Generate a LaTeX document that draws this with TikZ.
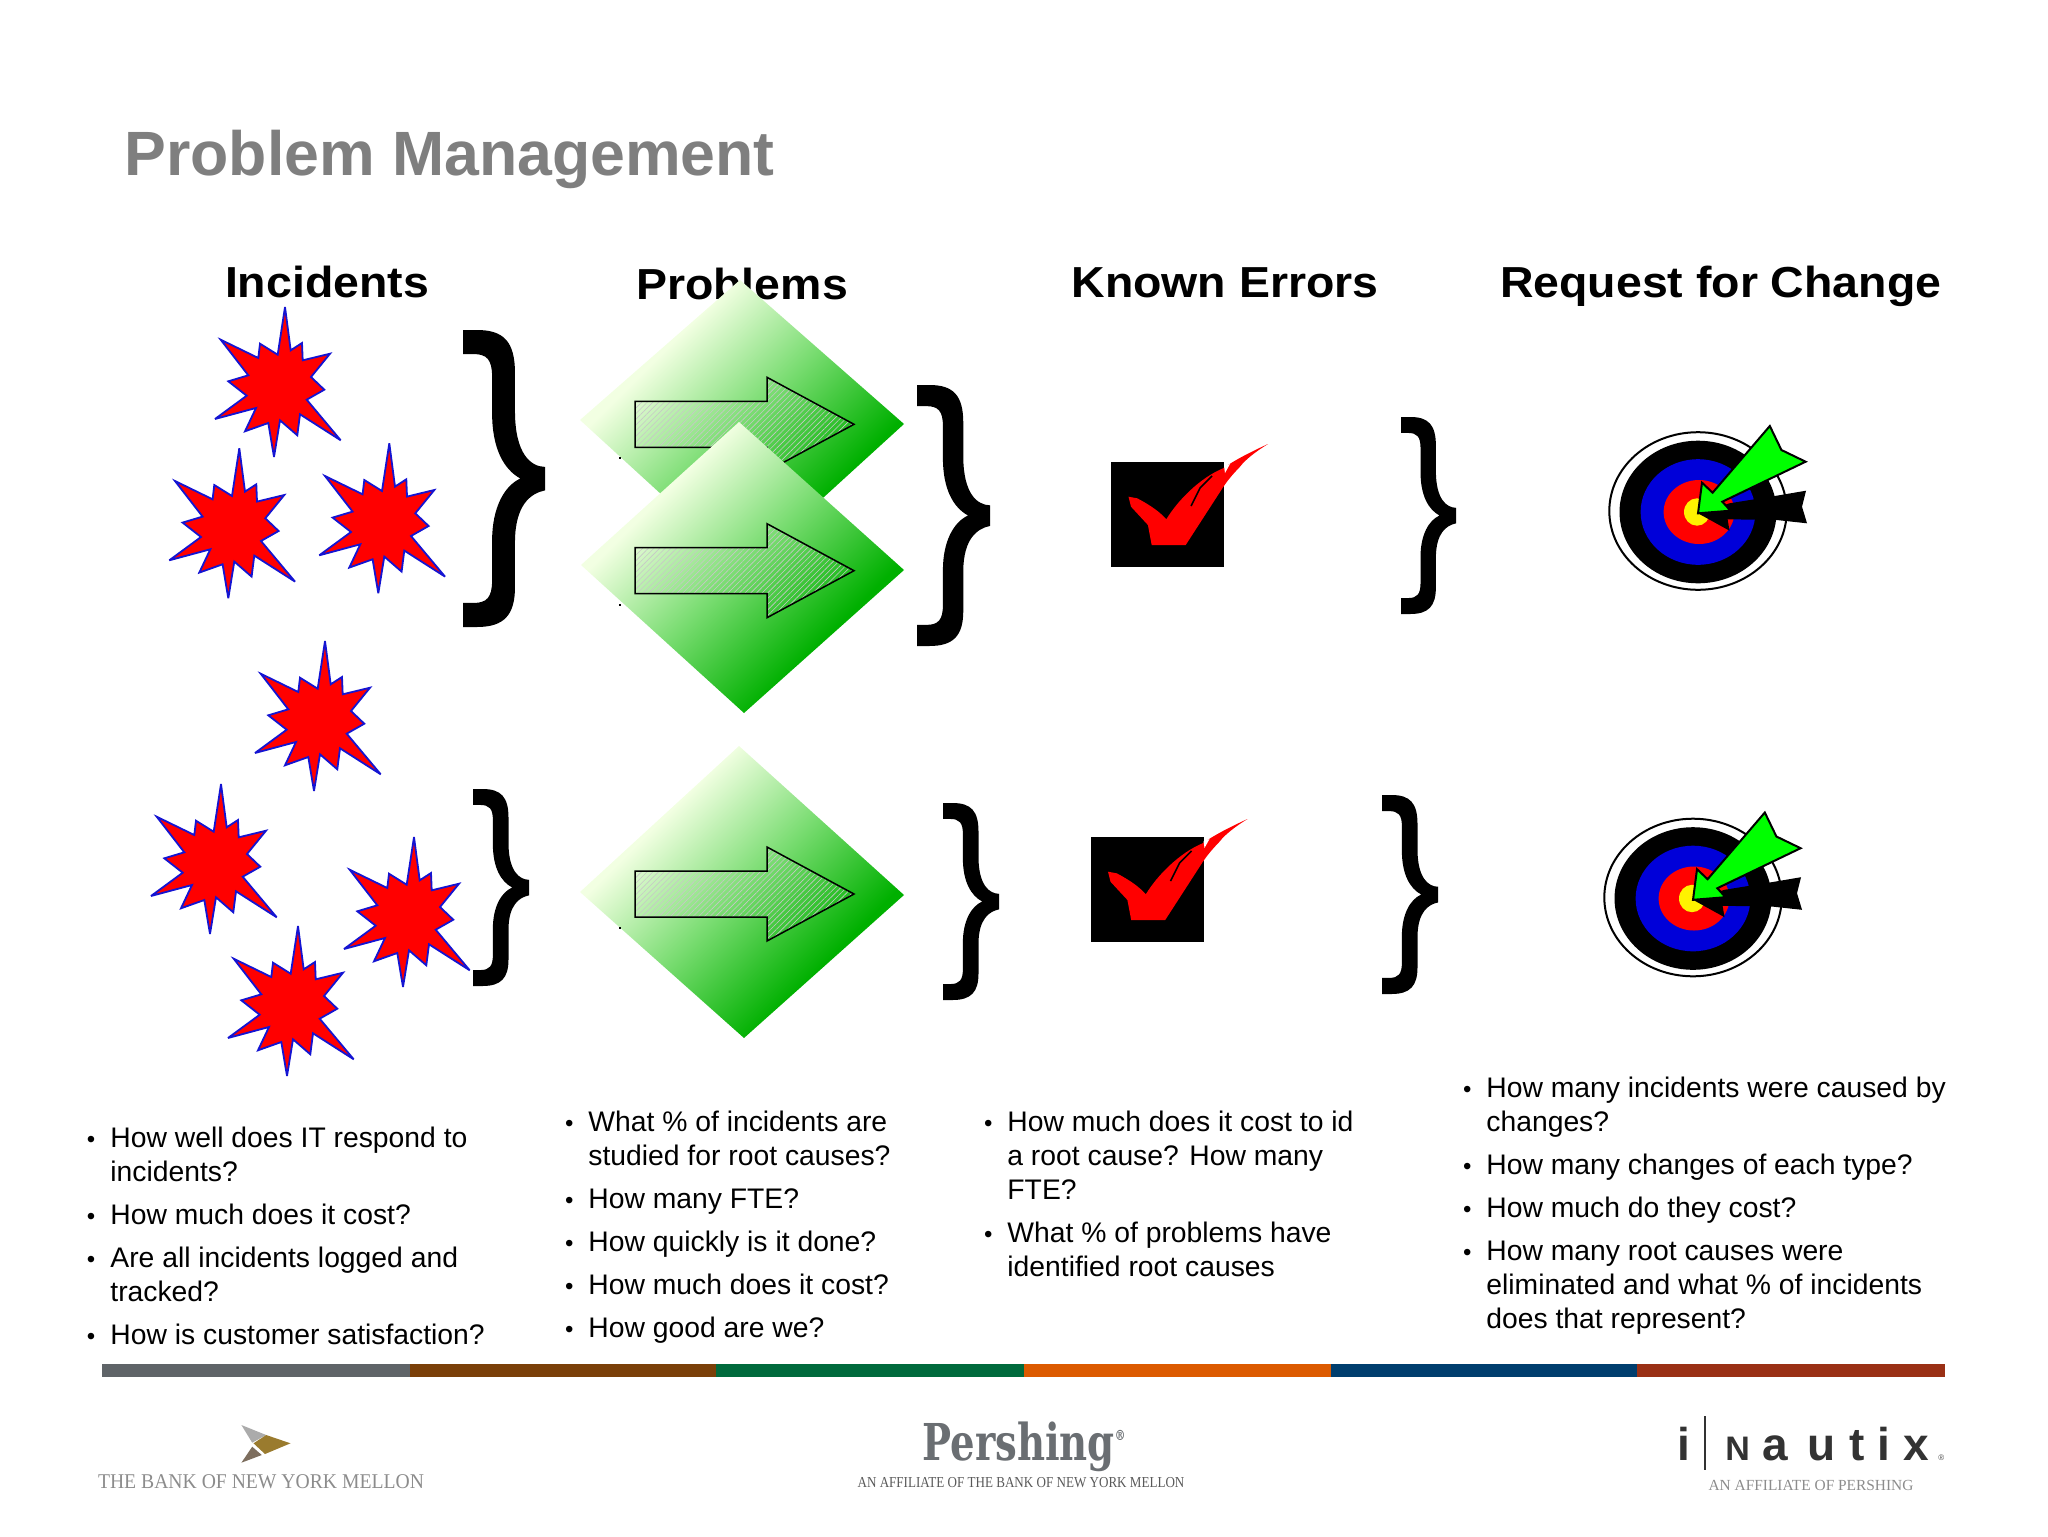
\documentclass[tikz,border=0pt]{standalone}
\usepackage{fontspec}
\usepackage{graphicx}
\setmainfont{Liberation Sans}
\newfontfamily\logoserif{Liberation Serif}
\newfontfamily\slabfont{DejaVu Serif}
\newfontfamily\headfont[FakeStretch=1.07]{Liberation Sans}
\usetikzlibrary{patterns.meta}
\definecolor{titlegray}{HTML}{7F7F7F}
\definecolor{starblue}{HTML}{1414D2}
\definecolor{palegreen}{HTML}{F2FFE2}
\definecolor{midgreen}{HTML}{78DC70}
\definecolor{deepgreen}{HTML}{00B000}
\definecolor{logogray}{HTML}{8C8C8C}
\definecolor{slabgray}{HTML}{6A6E72}
\definecolor{barA}{HTML}{5F6468}
\definecolor{barB}{HTML}{7A3F08}
\definecolor{barC}{HTML}{006A3C}
\definecolor{barD}{HTML}{DC5A00}
\definecolor{barE}{HTML}{003E6E}
\definecolor{barF}{HTML}{9A3015}
\definecolor{bnygray}{HTML}{ABABAB}
\definecolor{bnygold}{HTML}{9A7B2E}
\definecolor{bnybrown}{HTML}{7D6E5E}
\pgfdeclareverticalshading{rhombshade}{100bp}{color(0bp)=(deepgreen); color(32.3bp)=(deepgreen); color(50bp)=(midgreen); color(67.7bp)=(palegreen); color(100bp)=(palegreen)}
\newcommand\curly[4]{\fill[black,shift={(#1,#2)},x=#3*0.5pt,y=-#4*0.5pt]
 (0,0) -- (.17,0) .. controls (.50,0) and (.634,.04) .. (.634,.146) -- (.634,.28)
 .. controls (.64,.415) and (.82,.46) .. (1,.461) -- (1,.54)
 .. controls (.82,.55) and (.64,.59) .. (.634,.709) -- (.634,.865)
 .. controls (.634,.96) and (.50,1) .. (.17,1) -- (0,1) -- (0,.919) -- (.13,.919)
 .. controls (.29,.919) and (.355,.90) .. (.355,.843) -- (.355,.709)
 .. controls (.355,.60) and (.50,.525) .. (.70,.50)
 .. controls (.50,.47) and (.355,.40) .. (.355,.28) -- (.355,.157)
 .. controls (.355,.10) and (.29,.081) .. (.13,.081) -- (0,.081) -- cycle;}
\newcommand\rhomb[4]{%
 \shade[shading=rhombshade,shading angle=45]
  (#1) -- (#2) -- (#3) -- (#4) -- cycle;}
\newcommand\blockarrow[1]{%
 \begin{scope}[shift={(0,#1)}]
 \draw[blockstyle] (635,-23) -- (767,-23) -- (767,-47) -- (854,0) -- (767,47) -- (767,23) -- (635,23) -- cycle;
 \fill[black] (619,33) rectangle (621,35);
 \end{scope}}
\newcommand\lett[2]{\rlap{\hspace{#1pt}#2}}
\tikzset{
 titletext/.style={font=\fontsize{31.3}{36}\selectfont\bfseries,text=titlegray,anchor=base west,inner sep=0},
 headtext/.style={font=\headfont\fontsize{21.7}{28}\selectfont\bfseries,text=black,anchor=base,inner sep=0},
 bodytext/.style={font=\fontsize{14.15}{17}\selectfont,text=black,anchor=north west,inner sep=0,align=left},
 burststyle/.style={draw=starblue,fill=red,line width=.9pt,line join=miter,miter limit=5},
 blockstyle/.style={draw=black,line width=.75pt,pattern={Lines[angle=45,distance=2pt,line width=.3pt]},pattern color=black!22},
 burst/.pic={\path[burststyle] (0,0) -- (5.7,43.3) -- (17,36) -- (17.7,53.3) -- (45,46.7) -- (26,70) -- (39.3,82.7) -- (21.7,92.7) -- (55.7,133.3) -- (15,107.3) -- (12.3,128.3) -- (-5,113.3) -- (-11,150) -- (-16.7,116) -- (-40,124.3) -- (-29,101) -- (-70,112) -- (-38.3,88.7) -- (-56.7,74.3) -- (-36.7,68.3) -- (-64.3,32.7) -- (-26.7,51) -- (-25,36.7) -- (-7.3,47.7) -- cycle;},
 tickmark/.pic={
  \fill[black] (1111,462) rectangle (1224,567);
  \fill[red] (1128.5,496.7) -- (1137.2,498.3) .. controls (1150,505) and (1160,512) .. (1166.3,519.3) .. controls (1178,500) and (1200,478) .. (1223,468.3) .. controls (1238,458) and (1255,450) .. (1268,444) .. controls (1255,452) and (1245,460) .. (1240,466.7) .. controls (1232,475) and (1228,480) .. (1223,487.3) -- (1185.7,545) -- (1151.7,545) -- (1147.9,525) -- (1131,506.7) -- cycle;
  \draw[black,line width=.8pt] (1191,506) -- (1200,488) -- (1212,476);
  \fill[white] (1224,466) -- (1230,464) -- (1225,473) -- cycle;
 },
 targetmark/.pic={
  \draw[black,fill=white,line width=1pt] (1698,511) ellipse [x radius=88.7,y radius=78.8];
  \fill[black] (1698,512) ellipse [x radius=78.5,y radius=71.3];
  \fill[blue!85!black] (1698,512) ellipse [x radius=57.4,y radius=52.8];
  \fill[red] (1699,512) ellipse [x radius=35.4,y radius=32];
  \fill[yellow] (1697,512) ellipse [x radius=13,y radius=13.7];
  \fill[black] (1698,513.3) -- (1729.5,530.7) -- (1727.6,519.3) -- (1776.6,520) -- (1807,523.3) -- (1802,506.7) -- (1806,490.7) -- (1776.6,495.7) -- (1729.5,503.3) -- cycle;
  \draw[black,fill=green,line width=1pt,line join=miter] (1698,513.3) -- (1730.5,510.7) -- (1722.3,501.7) -- (1805.6,461.7) -- (1781.4,450) -- (1769.8,426) -- (1712.6,492.7) -- (1702,482.7) -- cycle;
 }
}
\begin{document}
\begin{tikzpicture}[x=0.5pt,y=-0.5pt]
\useasboundingbox (0,0) rectangle (2048,1536);
\node[titletext] (title) at (124,175.5) {Problem Management};
\node[headtext] (h1) at (327,297) {Incidents};
\node[headtext] (h2) at (742,299) {Problems};
\node[headtext] (h3) at (1225,297) {Known Errors};
\node[headtext] (h4) at (1720.7,297) {Request for Change};

\pic at (285,307) {burst};
\pic at (239.3,448.3) {burst};
\pic at (389.3,443.3) {burst};
\pic at (325,641) {burst};
\pic at (221,784) {burst};
\pic at (414,837) {burst};
\pic at (298,926) {burst};

\curly{463}{330}{82}{297}
\curly{917}{385}{73}{261}
\curly{1401}{417}{55}{197}
\curly{473}{789}{56}{197}
\curly{943}{803}{56}{197}
\curly{1382}{795}{56}{199}

\rhomb{580,420}{740,280}{904,424}{744,570}
\blockarrow{424.3}
\rhomb{581,565}{739,422}{904,570}{744,713}
\blockarrow{570.7}
\rhomb{580,892}{739,746}{904,895}{744,1038}
\blockarrow{894}

\pic {tickmark};
\begin{scope}[shift={(-20.5,375)}]\pic {tickmark};\end{scope}
\pic {targetmark};
\begin{scope}[shift={(-5,386.5)}]\pic {targetmark};\end{scope}

\newcommand\bul{\llap{{\fontsize{12}{12}\selectfont •}\hspace{7.5pt}}}
\node[bodytext] (col1) at (110,1127) {\bul How well does IT respond to\\incidents?\\[4.5pt]
\bul How much does it cost?\\[4.5pt]
\bul Are all incidents logged and\\tracked?\\[4.5pt]
\bul How is customer satisfaction?};
\node[bodytext] (col2) at (588,1110.5) {\bul What \% of incidents are\\studied for root causes?\\[4.5pt]
\bul How many FTE?\\[4.5pt]
\bul How quickly is it done?\\[4.5pt]
\bul How much does it cost?\\[4.5pt]
\bul How good are we?};
\node[bodytext] (col3) at (1007,1110.5) {\bul How much does it cost to id\\a root cause? How many\\FTE?\\[4.5pt]
\bul What \% of problems have\\identified root causes};
\node[bodytext] (col4) at (1486,1076.5) {\bul How many incidents were caused by\\changes?\\[4.5pt]
\bul How many changes of each type?\\[4.5pt]
\bul How much do they cost?\\[4.5pt]
\bul How many root causes were\\eliminated and what \% of incidents\\does that represent?};

\fill[barA] (102,1364) rectangle (410,1377);
\fill[barB] (410,1364) rectangle (716,1377);
\fill[barC] (716,1364) rectangle (1024,1377);
\fill[barD] (1024,1364) rectangle (1331,1377);
\fill[barE] (1331,1364) rectangle (1637,1377);
\fill[barF] (1637,1364) rectangle (1944.5,1377);

\fill[bnygray] (241.4,1425) -- (266.2,1435) -- (252.2,1442.7) -- cycle;
\fill[bnygold] (266.2,1435) -- (290.5,1443.3) -- (265,1454) -- (253.5,1443.3) -- cycle;
\fill[bnybrown] (252.2,1446.7) -- (261.8,1455) -- (241.4,1462.7) -- cycle;
\node[font=\logoserif\fontsize{10.5}{12}\selectfont,text=logogray,anchor=base,inner sep=0] (bny) at (261,1488) {\scalebox{.936}[1]{THE BANK OF NEW YORK MELLON}};

\node[font=\slabfont\bfseries\fontsize{25.4}{30}\selectfont,text=slabgray,anchor=base west,inner sep=0] (pershing) at (922,1460) {\scalebox{0.76}[1]{Pershing\raisebox{10pt}{\fontsize{7}{8}\selectfont ®}}};
\node[font=\logoserif\fontsize{7.6}{9}\selectfont,text=black!65,anchor=base,inner sep=0] (persub) at (1021,1487) {\scalebox{.86}[1]{AN AFFILIATE OF THE BANK OF NEW YORK MELLON}};

\node[font=\fontsize{23}{26}\selectfont\bfseries,text=black!80,anchor=base west,inner sep=0] (ini) at (1677,1460) {i};
\draw[black!80,line width=1pt] (1705,1416) -- (1705,1470);
\node[font=\bfseries\fontsize{23}{26}\selectfont,text=black!80,anchor=base west,inner sep=0] (nautix) at (1724,1460) {\lett{0}{\fontsize{17}{20}\selectfont N}\lett{18.5}{a}\lett{41}{u}\lett{62}{t}\lett{76}{i}\lett{89}{x}\hspace{104pt}};
\node[font=\fontsize{4}{5}\selectfont,text=black!70,anchor=base west,inner sep=0] (reg) at (1938,1460) {®};
\node[font=\logoserif\fontsize{7.7}{9}\selectfont,text=logogray,anchor=base,inner sep=0] (insub) at (1811,1490) {AN AFFILIATE OF PERSHING};
\end{tikzpicture}
\end{document}
